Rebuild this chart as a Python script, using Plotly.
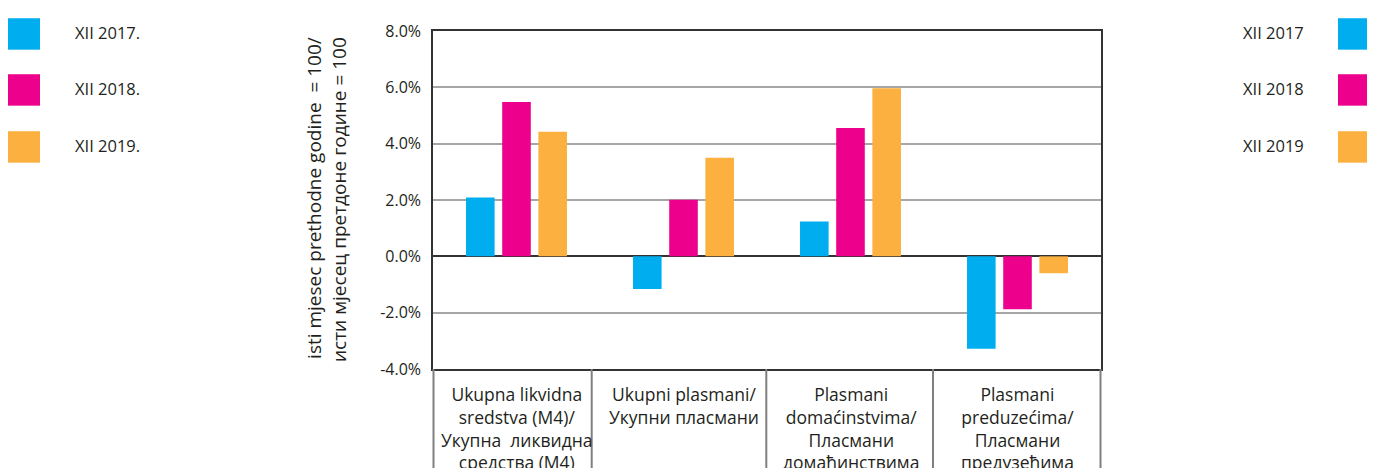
import plotly.graph_objects as go

# ---------------- data ----------------
categories = [
    "Ukupna likvidna<br>sredstva (M4)/<br>Укупна  ликвидна<br>средства (M4)",
    "Ukupni plasmani/<br>Укупни пласмани",
    "Plasmani<br>domaćinstvima/<br>Пласмани<br>домаћинствима",
    "Plasmani<br>preduzećima/<br>Пласмани<br>предузећима",
]
series_left = ["XII 2017.", "XII 2018.", "XII 2019."]
series_right = ["XII 2017", "XII 2018", "XII 2019"]
v2017 = [2.09, -1.16, 1.24, -3.28]
v2018 = [5.48, 2.01, 4.56, -1.88]
v2019 = [4.42, 3.50, 5.97, -0.60]
y_tickvals = [-4, -2, 0, 2, 4, 6, 8]
y_ticktext = ["-4.0%", "-2.0%", "0.0%", "2.0%", "4.0%", "6.0%", "8.0%"]
y_title = "isti mjesec prethodne godine  = 100/<br>исти мјесец претдоне године = 100"

# ---------------- styling / layout ----------------
colors = ["#00AEEF", "#EC008C", "#FBB040"]
FONT = "Open Sans"
TXT = "#231F20"
W, H = 1375, 468
OFF = 8  # page body margin
L, R, T, B = 433, 1101, 25, 369  # plot area box in page pixels


def pxx(p):
    return (p - L) / (R - L)


def pxy(p):
    return (B - p) / (B - T)


fig = go.Figure()
x_idx = list(range(len(categories)))
for name, vals, col in zip(series_left, [v2017, v2018, v2019], colors):
    fig.add_trace(go.Bar(x=x_idx, y=vals, name=name, marker_color=col,
                         marker_line_width=0, showlegend=False))

fig.update_layout(
    width=W, height=H,
    margin=dict(l=L - OFF, r=W - (R - OFF), t=T - OFF, b=H - (B - OFF), pad=0),
    paper_bgcolor="white", plot_bgcolor="white",
    barmode="group", bargap=0.35, bargroupgap=0.21,
    font=dict(family=FONT, color=TXT),
)
fig.update_xaxes(range=[-0.5, len(categories) - 0.5], showticklabels=False,
                 showgrid=False, zeroline=False, showline=True, mirror=True,
                 linecolor="#333333", linewidth=1.5, ticks="")
fig.update_yaxes(range=[-4, 8], tickvals=y_tickvals, ticktext=y_ticktext,
                 tickfont=dict(size=16, family=FONT, color=TXT),
                 showgrid=True, gridcolor="#A6A6A6", gridwidth=1.5,
                 zeroline=True, zerolinecolor="#333333", zerolinewidth=1.5,
                 showline=True, mirror=True, linecolor="#333333", linewidth=1.5,
                 ticks="", ticklabelstandoff=7)

shapes = []
# table-like dividers under the plot
for p in [433.5, 591.7, 766.3, 933, 1100.5]:
    shapes.append(dict(type="line", xref="paper", yref="paper",
                       x0=pxx(p), x1=pxx(p), y0=0, y1=pxy(H + 20),
                       line=dict(color="#7F7F7F", width=2)))

annotations = []
# category labels
for i, cat in enumerate(categories):
    annotations.append(dict(x=i, xref="x", y=pxy(380), yref="paper",
                            text=cat, showarrow=False, xanchor="center",
                            yanchor="top", align="center",
                            font=dict(size=17.5, family=FONT, color=TXT)))
# y-axis title
annotations.append(dict(x=pxx(326), xref="paper", y=pxy(197), yref="paper",
                        text=y_title, showarrow=False, textangle=-90,
                        xanchor="center", yanchor="middle", align="right",
                        font=dict(size=19, family=FONT, color=TXT)))

# legends (left and right)
leg_y = [28, 85, 143]
for name_l, name_r, col, yc in zip(series_left, series_right, colors, leg_y):
    shapes.append(dict(type="rect", xref="paper", yref="paper",
                       x0=pxx(8), x1=pxx(40), y0=pxy(yc + 16), y1=pxy(yc - 16),
                       fillcolor=col, line=dict(width=0)))
    annotations.append(dict(x=pxx(73), xref="paper", y=pxy(yc - 1), yref="paper",
                            text=name_l, showarrow=False, xanchor="left",
                            yanchor="middle",
                            font=dict(size=16.5, family=FONT, color=TXT)))
    shapes.append(dict(type="rect", xref="paper", yref="paper",
                       x0=pxx(1338), x1=pxx(1370), y0=pxy(yc + 16), y1=pxy(yc - 16),
                       fillcolor=col, line=dict(width=0)))
    annotations.append(dict(x=pxx(1241), xref="paper", y=pxy(yc - 1), yref="paper",
                            text=name_r, showarrow=False, xanchor="left",
                            yanchor="middle",
                            font=dict(size=16.5, family=FONT, color=TXT)))

fig.update_layout(shapes=shapes, annotations=annotations)
fig.write_html("out.html")
